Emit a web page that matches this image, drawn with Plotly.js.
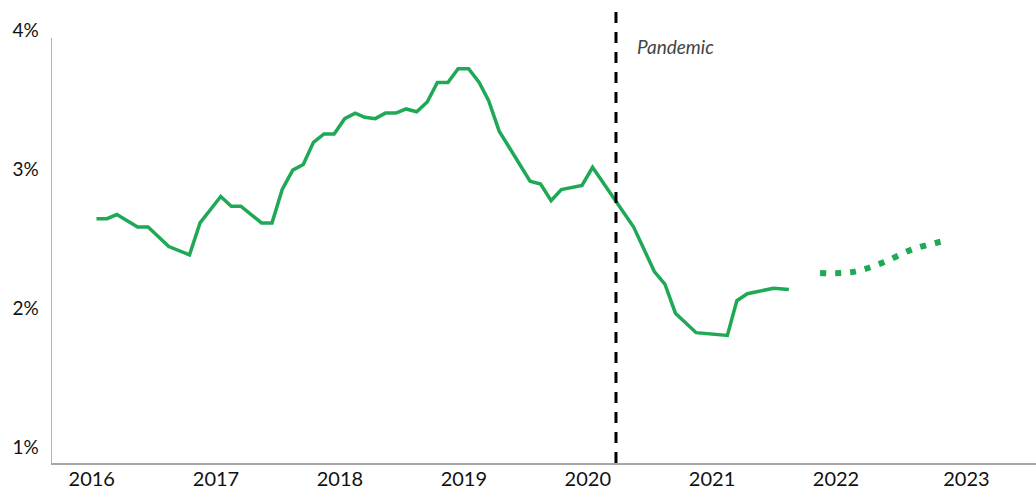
<!DOCTYPE html>
<html>
<head>
<meta charset="utf-8">
<script src="https://cdn.plot.ly/plotly-3.0.1.min.js"></script>
<style>
  html, body { margin: 0; padding: 0; background: #fff; }
  #chart { width: 1036px; height: 491px; }
</style>
</head>
<body>
<div id="chart"></div>
<script>
// Actual series (vertices of the monthly line)
const actualDates = [
  '2016-01-15','2016-02-15','2016-03-15','2016-05-15','2016-06-15','2016-08-15','2016-10-15','2016-11-15',
  '2017-01-15','2017-02-15','2017-03-15','2017-05-15','2017-06-15','2017-07-15','2017-08-15','2017-09-15',
  '2017-10-15','2017-11-15','2017-12-15',
  '2018-01-15','2018-02-15','2018-03-15','2018-04-15','2018-05-15','2018-06-15','2018-07-15','2018-08-15',
  '2018-09-15','2018-10-15','2018-11-15','2018-12-15',
  '2019-01-15','2019-02-15','2019-03-15','2019-04-15','2019-05-15','2019-07-15','2019-08-15','2019-09-15',
  '2019-10-15','2019-12-15',
  '2020-01-15','2020-05-15','2020-07-15','2020-08-15','2020-09-15','2020-11-15',
  '2021-02-15','2021-03-15','2021-04-15','2021-07-01','2021-08-15'
];
const actualValues = [
  2.70, 2.70, 2.73, 2.64, 2.64, 2.50, 2.44, 2.67,
  2.86, 2.79, 2.79, 2.67, 2.67, 2.91, 3.05, 3.09,
  3.25, 3.31, 3.31,
  3.42, 3.46, 3.43, 3.42, 3.46, 3.46, 3.49, 3.47,
  3.54, 3.68, 3.68, 3.78,
  3.78, 3.68, 3.55, 3.33, 3.21, 2.97, 2.95, 2.83,
  2.91, 2.94,
  3.07, 2.64, 2.32, 2.23, 2.02, 1.88,
  1.86, 2.11, 2.16, 2.20, 2.19
];

// Forecast series (dotted)
const forecastDates = ['2021-11-15','2022-02-15','2022-05-15','2022-08-15','2022-11-15'];
const forecastValues = [2.31, 2.315, 2.38, 2.48, 2.54];

// Axis ticks
const yTickValues = [1, 2, 3, 4];
const yTickLabels = ['1%', '2%', '3%', '4%'];
const xTickDates = ['2016-01-01','2017-01-01','2018-01-01','2019-01-01','2020-01-01','2021-01-01','2022-01-01','2023-01-20'];
const xTickLabels = ['2016','2017','2018','2019','2020','2021','2022','2023'];

// Event marker
const pandemicDate = '2020-03-24';
const pandemicLabel = 'Pandemic';

const green = '#1fa855';
const FONT = 'Lato, "Open Sans", sans-serif';

const traces = [
  {
    x: actualDates, y: actualValues, type: 'scatter', mode: 'lines',
    line: { color: green, width: 3.5 }, hoverinfo: 'skip', showlegend: false
  },
  {
    x: forecastDates, y: forecastValues, type: 'scatter', mode: 'lines',
    line: { color: green, width: 6, dash: '6px,9px', shape: 'spline', smoothing: 1 },
    hoverinfo: 'skip', showlegend: false
  }
];

const layout = {
  width: 1036, height: 491,
  margin: { l: 52, r: 0, t: 38, b: 28, pad: 0 },
  paper_bgcolor: '#ffffff', plot_bgcolor: '#ffffff',
  font: { family: FONT, color: '#111111' },
  showlegend: false,
  xaxis: {
    type: 'date',
    range: ['2015-09-06', '2023-08-13'],
    tickmode: 'array', tickvals: xTickDates, ticktext: xTickLabels,
    ticks: '', showgrid: false, zeroline: false,
    showline: true, linecolor: '#a6a6a6', linewidth: 1.5,
    tickfont: { family: FONT, size: 20, color: '#111111' },
    ticklabelstandoff: -3,
    fixedrange: true
  },
  yaxis: {
    range: [0.942, 4.0005],
    tickmode: 'array', tickvals: yTickValues, ticktext: yTickLabels,
    ticks: '', showgrid: false, zeroline: false,
    showline: true, linecolor: '#b3b3b3', linewidth: 1.5,
    tickfont: { family: FONT, size: 19, color: '#111111' },
    ticklabelshift: -8,
    ticklabelstandoff: 8,
    fixedrange: true
  },
  shapes: [
    {
      type: 'line', xref: 'x', yref: 'paper',
      x0: pandemicDate, x1: pandemicDate, y0: 0, y1: 1.062,
      line: { color: '#000000', width: 3, dash: '11px,9px' }
    }
  ],
  annotations: [
    {
      x: pandemicDate, xref: 'x', y: 0.981, yref: 'paper',
      text: '<i>' + pandemicLabel + '</i>', showarrow: false,
      xanchor: 'left', yanchor: 'middle', xshift: 19,
      font: { family: FONT, size: 19, color: '#444444' }
    }
  ]
};

Plotly.newPlot('chart', traces, layout, { displayModeBar: false, staticPlot: true });
</script>
</body>
</html>
